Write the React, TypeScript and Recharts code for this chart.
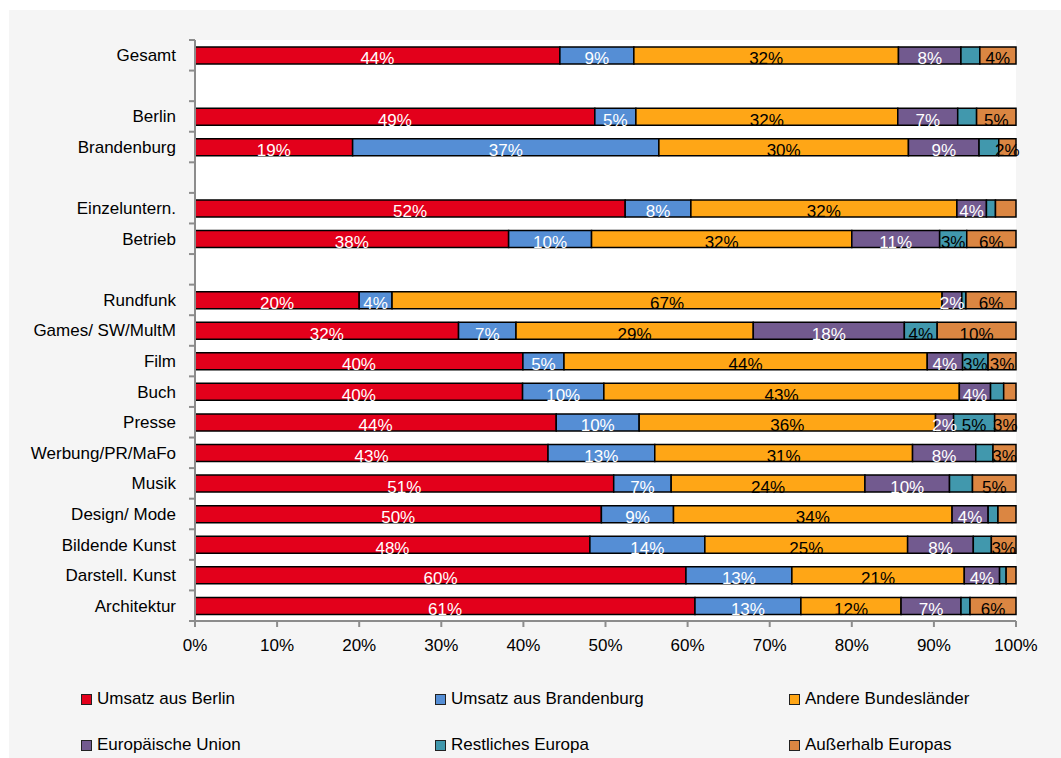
import { BarChart, Bar, XAxis, YAxis, CartesianGrid, LabelList } from 'recharts'

// rows from top to bottom, '' = empty spacer row
const rows = [
  'Gesamt', '', 'Berlin', 'Brandenburg', '', 'Einzeluntern.', 'Betrieb', '',
  'Rundfunk', 'Games/ SW/MultM', 'Film', 'Buch', 'Presse', 'Werbung/PR/MaFo',
  'Musik', 'Design/ Mode', 'Bildende Kunst', 'Darstell. Kunst', 'Architektur'
]

// shares in percent
const ausBerlin = [44.4, 0, 48.7, 19.2, 0, 52.4, 38.2, 0, 20.0, 32.1, 39.9, 39.9, 44.0, 43.0, 51.0, 49.6, 48.1, 59.8, 60.9]
const ausBrandenburg = [9.0, 0, 5.0, 37.3, 0, 8.0, 10.1, 0, 4.0, 7.0, 5.0, 9.9, 10.1, 13.0, 7.0, 8.8, 14.0, 12.9, 12.9]
const andereLaender = [32.2, 0, 31.9, 30.4, 0, 32.4, 31.7, 0, 67.0, 28.9, 44.2, 43.3, 36.1, 31.4, 23.6, 34.0, 24.7, 21.0, 12.2]
const europUnion = [7.6, 0, 7.3, 8.6, 0, 3.6, 10.7, 0, 2.4, 18.4, 4.3, 3.8, 2.2, 7.7, 10.3, 4.4, 8.0, 4.3, 7.3]
const restEuropa = [2.3, 0, 2.3, 2.4, 0, 1.1, 3.3, 0, 0.5, 4.0, 3.1, 1.6, 5.0, 2.1, 2.8, 1.2, 2.2, 0.8, 1.1]
const ausserhalb = [4.4, 0, 4.8, 2.1, 0, 2.5, 6.0, 0, 6.1, 9.6, 3.4, 1.5, 2.6, 2.8, 5.3, 2.2, 3.0, 1.2, 5.6]

// which small segments carry a value label in the original
const restEuropaLabels = [false, false, false, false, false, false, true, false, false, true, true, false, true, false, false, false, false, false, false]
const ausserhalbLabels = [true, false, true, true, false, false, true, false, true, true, true, false, true, true, true, false, true, false, true]

const xTicks = [0, 0.1, 0.2, 0.3, 0.4, 0.5, 0.6, 0.7, 0.8, 0.9, 1]

const series = [
  { key: 'berlin', name: 'Umsatz aus Berlin', values: ausBerlin, color: '#e3001b', text: '#ffffff' },
  { key: 'brandenburg', name: 'Umsatz aus Brandenburg', values: ausBrandenburg, color: '#558ed5', text: '#ffffff' },
  { key: 'andere', name: 'Andere Bundesländer', values: andereLaender, color: '#ffa616', text: '#000000' },
  { key: 'eu', name: 'Europäische Union', values: europUnion, color: '#725a8f', text: '#ffffff' },
  { key: 'rest', name: 'Restliches Europa', values: restEuropa, color: '#4198ad', text: '#000000', shown: restEuropaLabels },
  { key: 'aussen', name: 'Außerhalb Europas', values: ausserhalb, color: '#db8642', text: '#000000', shown: ausserhalbLabels },
]

const data = rows.map((name, i) => {
  const row: any = { name }
  series.forEach(s => { row[s.key] = s.values[i] })
  return row
})

const FONT = '"Liberation Sans", Arial, sans-serif'
const FS = 17
const AXIS_GREY = '#8c8c8c'
const TOP = 30
const PLOT_H = 581
const band = PLOT_H / rows.length

function RowTick(props: any) {
  const { x, y, payload, index } = props
  const ax = x + 19
  return (
    <g>
      <text x={x} y={y} dy="0.35em" textAnchor="end" fill="#000" fontSize={FS} fontFamily={FONT}>
        {payload.value}
      </text>
      <line x1={ax - 6} x2={ax} y1={y - band / 2} y2={y - band / 2} stroke={AXIS_GREY} strokeWidth={2} />
      {index === rows.length - 1 && (
        <line x1={ax - 6} x2={ax} y1={y + band / 2} y2={y + band / 2} stroke={AXIS_GREY} strokeWidth={2} />
      )}
    </g>
  )
}

// empty rows are not drawn, so find the row from the bar's position
function segmentLabel(values: number[], color: string, shown?: boolean[]) {
  return (props: any) => {
    const vb = props.viewBox || {}
    const x = props.x ?? vb.x
    const y = props.y ?? vb.y
    const width = props.width ?? vb.width
    const height = props.height ?? vb.height
    const cy = y + height / 2
    const row = Math.round((cy - TOP - band / 2) / band)
    const v = values[row]
    if (!v || (shown && !shown[row])) return null
    return (
      <text x={x + width / 2} y={cy + 3} dy="0.35em" textAnchor="middle" fill={color} fontSize={FS} fontFamily={FONT}>
        {Math.round(v)}%
      </text>
    )
  }
}

function ChartLegend() {
  return (
    <div style={{ position: 'absolute', left: 72, top: 676, width: 1062, fontFamily: FONT, fontSize: FS, color: '#000' }}>
      {series.map((s, i) => (
        <div
          key={s.key}
          style={{
            position: 'absolute',
            left: (i % 3) * 354,
            top: Math.floor(i / 3) * 46,
            display: 'flex',
            alignItems: 'center',
            whiteSpace: 'nowrap',
            height: 26
          }}
        >
          <span style={{ width: 9, height: 9, background: s.color, border: '1px solid #222', marginRight: 5 }} />
          {s.name}
        </div>
      ))}
    </div>
  )
}

export default function App() {
  return (
    <div style={{ position: 'absolute', left: 9, top: 10, width: 1052, height: 748, background: '#f5f5f5' }}>
      <BarChart
        width={1052}
        height={660}
        data={data}
        layout="vertical"
        stackOffset="expand"
        margin={{ top: TOP, right: 45, left: 0, bottom: 9 }}
      >
        <CartesianGrid horizontal={false} vertical={false} fill="#ffffff" stroke="none" />
        <XAxis
          type="number"
          domain={[0, 1]}
          ticks={xTicks}
          height={40}
          tickFormatter={(v: number) => `${Math.round(v * 100)}%`}
          axisLine={{ stroke: AXIS_GREY, strokeWidth: 2 }}
          tickLine={{ stroke: AXIS_GREY, strokeWidth: 2 }}
          tickSize={6}
          tickMargin={12}
          tick={{ fill: '#000', fontSize: FS, fontFamily: FONT }}
        />
        <YAxis
          type="category"
          dataKey="name"
          width={186}
          interval={0}
          tickLine={false}
          tickSize={6}
          tickMargin={13}
          axisLine={{ stroke: AXIS_GREY, strokeWidth: 2 }}
          tick={(p: any) => <RowTick {...p} />}
        />
        {series.map(s => (
          <Bar
            key={s.key}
            dataKey={s.key}
            name={s.name}
            stackId="a"
            fill={s.color}
            stroke="#000"
            strokeWidth={1.5}
            barSize={17}
            isAnimationActive={false}
          >
            <LabelList dataKey={s.key} content={segmentLabel(s.values, s.text, s.shown)} />
          </Bar>
        ))}
      </BarChart>
      <ChartLegend />
    </div>
  )
}
